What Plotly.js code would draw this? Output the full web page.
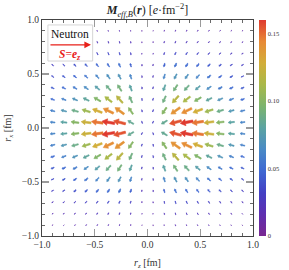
<!DOCTYPE html>
<html><head><meta charset="utf-8">
<script src="https://cdn.plot.ly/plotly-3.0.1.min.js"></script>
<style>html,body{margin:0;padding:0;background:#fff}#chart{width:289px;height:270px}</style>
</head><body><div id="chart"></div>
<script>
// Grid positions (r_z along columns, r_x along rows), in fm
const gridPos = [-0.9,-0.794,-0.688,-0.582,-0.476,-0.371,-0.265,-0.159,-0.053,0.053,0.159,0.265,0.371,0.476,0.582,0.688,0.794,0.9];
// Quadrant positions |r| for the read tables
const quadPos = [0.053,0.159,0.265,0.371,0.476,0.582,0.688,0.794,0.9];
// |M|, rows: |r_x| = quadPos, cols: |r_z| = quadPos
const magRows = [
  [0.030,0.085,0.155,0.162,0.148,0.125,0.100,0.080,0.062],
  [0.030,0.100,0.140,0.142,0.128,0.108,0.088,0.072,0.060],
  [0.030,0.090,0.118,0.112,0.098,0.082,0.070,0.060,0.050],
  [0.028,0.080,0.092,0.088,0.077,0.066,0.057,0.050,0.043],
  [0.025,0.062,0.070,0.068,0.061,0.054,0.047,0.041,0.036],
  [0.022,0.045,0.052,0.050,0.047,0.043,0.038,0.034,0.030],
  [0.018,0.030,0.035,0.035,0.033,0.031,0.029,0.026,0.023],
  [0.015,0.022,0.025,0.025,0.024,0.022,0.021,0.019,0.017],
  [0.012,0.016,0.018,0.018,0.018,0.017,0.016,0.015,0.013]
];
// Tilt of the arrow away from the -z direction, towards the r_z axis (degrees)
const tiltRows = [
  [70,30,14,10,8,7,7,6,6],
  [78,55,35,25,20,17,15,14,13],
  [82,65,48,37,30,26,23,21,19],
  [84,70,57,47,40,34,30,27,25],
  [85,73,62,54,48,42,37,33,30],
  [86,75,66,59,53,48,43,39,35],
  [87,77,69,62,57,52,47,43,40],
  [88,78,71,65,60,55,51,47,43],
  [88,79,72,67,62,58,54,50,46]
];
const cbTickVals = [0,0.05,0.10,0.15];
const cbTickText = ['0','0.05','0.10','0.15'];
const axisTicks = [-1.0,-0.5,0.0,0.5,1.0];

const cMax = 0.16;
const colorStops = [
  [0.00,'#7a2890'],[0.10,'#5f2fb0'],[0.20,'#4440c4'],[0.30,'#3f68d2'],
  [0.40,'#4a8ac6'],[0.50,'#5ba3a2'],[0.60,'#7cb46e'],[0.70,'#a9b94a'],
  [0.80,'#d2ae3a'],[0.90,'#e88a36'],[1.00,'#df3a2f']
];
function hex2rgb(h){return [parseInt(h.slice(1,3),16),parseInt(h.slice(3,5),16),parseInt(h.slice(5,7),16)];}
function colorAt(v){
  let t=Math.max(0,Math.min(1,v/cMax));
  for(let k=1;k<colorStops.length;k++){
    if(t<=colorStops[k][0]){
      const a=colorStops[k-1],b=colorStops[k];
      const f=(t-a[0])/(b[0]-a[0]);
      const ca=hex2rgb(a[1]),cb=hex2rgb(b[1]);
      const c=ca.map((x,i)=>Math.round(x+(cb[i]-x)*f));
      return 'rgb('+c.join(',')+')';
    }
  }
  return colorStops[colorStops.length-1][1];
}

const traces=[];
const maxLen=0.12;
gridPos.forEach(z=>{
  gridPos.forEach(x=>{
    const i=quadPos.findIndex(q=>Math.abs(q-Math.abs(z))<1e-6);
    const j=quadPos.findIndex(q=>Math.abs(q-Math.abs(x))<1e-6);
    const m=magRows[j][i];
    const phi=tiltRows[j][i]*Math.PI/180;
    const mz=-m*Math.cos(phi);
    const mx=-Math.sign(z)*Math.sign(x)*m*Math.sin(phi);
    const L=maxLen*m/cMax;
    const ux=mz/m, uy=mx/m;
    const nx=-uy, ny=ux;
    const tz=z-ux*L/2, tx=x-uy*L/2;
    const hz=z+ux*L/2, hx=x+uy*L/2;
    const hl=0.40*L, hw=0.25*L, sw=Math.max(0.09*L,0.002);
    const bz=hz-ux*hl, bx=hx-uy*hl;
    const px=[tz+nx*sw, bz+nx*sw, bz+nx*hw, hz, bz-nx*hw, bz-nx*sw, tz-nx*sw, tz+nx*sw];
    const py=[tx+ny*sw, bx+ny*sw, bx+ny*hw, hx, bx-ny*hw, bx-ny*sw, tx-ny*sw, tx+ny*sw];
    const col=colorAt(m);
    traces.push({type:'scatter',mode:'lines',x:px,y:py,fill:'toself',fillcolor:col,
      line:{color:col,width:0.6},hoverinfo:'skip',showlegend:false});
  });
});
// colour bar carrier
traces.push({type:'scatter',mode:'markers',x:[gridPos[0],gridPos[0]],y:[gridPos[0],gridPos[0]],
  marker:{size:0.1,opacity:0,color:[0,cMax],cmin:0,cmax:cMax,
    colorscale:colorStops,showscale:true,
    colorbar:{thickness:7,len:1,lenmode:'fraction',x:1.028,xanchor:'left',xref:'paper',y:0.5,yanchor:'middle',
      outlinewidth:0,ticks:'',tickvals:cbTickVals,ticktext:cbTickText,
      tickfont:{family:'Liberation Serif',size:6.5,color:'#333'},ypad:0,xpad:0}},
  hoverinfo:'skip',showlegend:false});

const serif='Liberation Serif, Times New Roman, serif';
const axisCommon={range:[-1,1],tickvals:axisTicks,tickformat:'.1f',ticks:'inside',ticklen:7,tickwidth:1.4,tickcolor:'#9a9a9a',
  minor:{ticks:'inside',ticklen:3,tickwidth:0.8,tickcolor:'#444',dtick:0.1,tick0:-1},
  showline:true,linecolor:'#444',linewidth:1,mirror:'allticks',showgrid:false,zeroline:false,
  tickfont:{family:serif,size:9.5,color:'#333'},fixedrange:true};

const layout={
  width:289,height:270,margin:{l:42,r:32,t:20,b:34},
  paper_bgcolor:'#fff',plot_bgcolor:'#fff',showlegend:false,
  title:{text:'<b><i>M</i></b><sub><i>eff,B</i></sub>(<b><i>r</i></b>) [<i>e</i>·fm<sup>−2</sup>]',
    font:{family:serif,size:12,color:'#222'},x:0.5,xref:'paper',xanchor:'center',y:0.962,yref:'container',yanchor:'middle'},
  xaxis:Object.assign({},axisCommon,{title:{text:'<i>r</i><sub><i>z</i></sub> [fm]',font:{family:serif,size:10,color:'#333'},standoff:9}}),
  yaxis:Object.assign({},axisCommon,{title:{text:'<i>r</i><sub><i>x</i></sub> [fm]',font:{family:serif,size:10,color:'#333'},standoff:8}}),
  shapes:[{type:'rect',xref:'paper',yref:'paper',x0:0.028,x1:0.24,y0:0.81,y1:0.977,
    fillcolor:'#fff',line:{color:'#ccc',width:0.8},layer:'above'}],
  annotations:[
    {xref:'paper',yref:'paper',x:0.134,y:0.937,xanchor:'center',yanchor:'middle',text:'Neutron',showarrow:false,font:{family:serif,size:11.5,color:'#111'}},
    {xref:'paper',yref:'paper',x:0.232,y:0.885,ax:-42,ay:0,text:'',showarrow:true,arrowhead:2,arrowsize:1.1,arrowwidth:1.2,arrowcolor:'#e8201a'},
    {xref:'paper',yref:'paper',x:0.134,y:0.84,xanchor:'center',yanchor:'middle',text:'<b><i>S</i></b>=<b><i>e</i></b><sub><b><i>z</i></b></sub>',showarrow:false,font:{family:serif,size:11.5,color:'#e8201a'}}
  ]
};
Plotly.newPlot('chart',traces,layout,{displayModeBar:false,staticPlot:true});
</script></body></html>
